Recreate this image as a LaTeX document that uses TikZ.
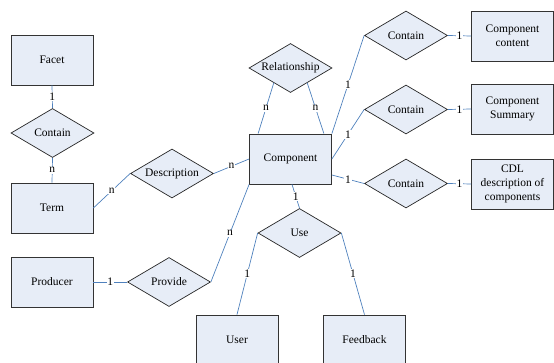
\documentclass[tikz,border=0pt]{standalone}
\usepackage{fontspec}
\setmainfont{Liberation Serif}
\newfontfamily\erfont{Liberation Serif}
\usetikzlibrary{shapes.geometric,calc}
\definecolor{entfill}{RGB}{231,237,247}
\definecolor{linkblue}{RGB}{79,129,189}

\begin{document}
\begin{tikzpicture}[x=1pt,y=-1pt,
    entity/.style={draw=black!80,line width=0.8pt,fill=entfill,minimum width=82pt,minimum height=50pt,inner sep=1pt,align=center,font=\erfont\fontsize{11.5}{13.7}\selectfont},
    relation/.style={diamond,draw=black!85,line width=0.7pt,fill=entfill,minimum width=83pt,minimum height=49pt,aspect=1.66,inner sep=0pt,font=\erfont\fontsize{11.5}{13.7}\selectfont},
    link/.style={draw=linkblue,line width=0.7pt},
    card/.style={fill=white,inner sep=0.8pt,font=\erfont\fontsize{11.5}{12}\selectfont}]
  \useasboundingbox (0,0) rectangle (554,363);

  % entities and relations
  \node[entity] (facet) at (52,60) {Facet};
  \node[relation] (hasterm) at (52.5,133) {Contain};
  \node[entity] (term) at (52,208) {Term};
  \node[relation] (desc) at (172,173.5) {Description};
  \node[entity] (producer) at (52,282) {Producer};
  \node[relation] (provide) at (169,282) {Provide};
  \node[entity] (comp) at (290.5,159) {Component};
  \node[relation] (rel) at (290.5,68) {Relationship};
  \node[relation] (use) at (299.5,233) {Use};
  \node[entity] (user) at (237,340) {User};
  \node[entity] (feedback) at (364.5,340) {Feedback};
  \node[relation] (hascontent) at (406,35.5) {Contain};
  \node[relation] (hassummary) at (406,109.5) {Contain};
  \node[relation] (hascdl) at (406,183.5) {Contain};
  \node[entity] (content) at (512.5,36) {Component\\content};
  \node[entity] (summary) at (512.5,109) {Component\\Summary};
  \node[entity] (cdl) at (512.5,184) {CDL\\description of\\components};

  % links
  \draw[link] (facet.south) -- node[card]{1} (hasterm.north);
  \draw[link] (hasterm.south) -- node[card]{n} (term.north);
  \draw[link] (term.east) -- node[card]{n} (desc.west);
  \draw[link] (desc.east) -- node[card]{n} (comp.west);
  \draw[link] (producer.east) -- node[card]{1} (provide.west);
  \draw[link] (provide.east) -- node[card]{n} (comp.south west);
  \draw[link] ($(rel.south)!0.4!(rel.west)$) -- node[card]{n} ([xshift=9pt]comp.north west);
  \draw[link] ($(rel.south)!0.4!(rel.east)$) -- node[card]{n} ([xshift=-8pt]comp.north east);
  \draw[link] ([xshift=1.5pt]comp.south) -- node[card]{1} (use.north);
  \draw[link] (use.west) -- node[card]{1} (user.north);
  \draw[link] (use.east) -- node[card]{1} (feedback.north);
  \draw[link] (comp.north east) -- node[card]{1} (hascontent.west);
  \draw[link] (comp.east) -- node[card]{1} (hassummary.west);
  \draw[link] ([yshift=-16pt]comp.east) -- node[card]{1} (hascdl.west);
  \draw[link] (hascontent.east) -- node[card]{1} (content.west);
  \draw[link] (hassummary.east) -- node[card]{1} (summary.west);
  \draw[link] (hascdl.east) -- node[card]{1} (cdl.west);
\end{tikzpicture}
\end{document}
